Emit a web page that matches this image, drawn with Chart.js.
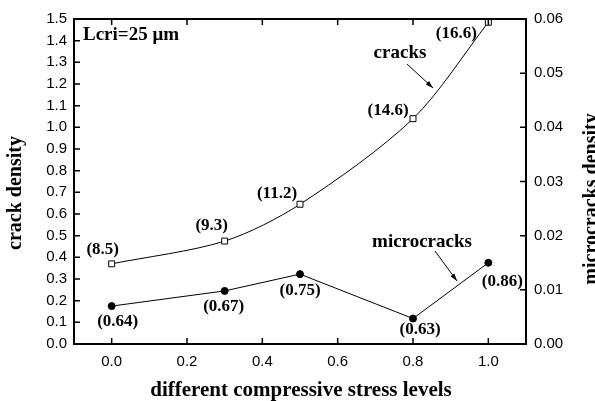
<!DOCTYPE html>
<html>
<head>
<meta charset="utf-8">
<script src="https://cdn.jsdelivr.net/npm/chart.js@4"></script>
<style>
  html, body { margin: 0; padding: 0; background: #fff; }
  #wrap { width: 595px; height: 401px; }
</style>
</head>
<body>
<div id="wrap"><canvas id="densityChart" width="595" height="401"></canvas></div>
<script>
// stress levels on x, crack density (left axis) and microcrack density (right axis)
const stressLevels = [0.0, 0.3, 0.5, 0.8, 1.0];
const crackDensity = [0.37, 0.475, 0.645, 1.04, 1.485];
const microDensity = [0.0070, 0.0098, 0.0129, 0.0047, 0.0150];
const crackLabels = ['(8.5)', '(9.3)', '(11.2)', '(14.6)', '(16.6)'];
const microLabels = ['(0.64)', '(0.67)', '(0.75)', '(0.63)', '(0.86)'];

const xTicks = [0.0, 0.2, 0.4, 0.6, 0.8, 1.0];
const yTicks = [0.0, 0.1, 0.2, 0.3, 0.4, 0.5, 0.6, 0.7, 0.8, 0.9, 1.0, 1.1, 1.2, 1.3, 1.4, 1.5];
const y1Ticks = [0.00, 0.01, 0.02, 0.03, 0.04, 0.05, 0.06];

// where each bracketed label sits relative to its point (px)
const crackLabelOffsets = [[-9, -14], [-13, -15], [-23, -11], [-25, -8], [-32, 11]];
const microLabelOffsets = [[6, 16], [-1, 16], [0, 16], [7, 11], [14, 19]];

const LABEL_FONT = 'bold 17px "Liberation Serif", "Times New Roman", serif';
const NOTE_FONT = 'bold 19px "Liberation Serif", "Times New Roman", serif';
const TITLE_FONT = 'bold 20px "Liberation Serif", "Times New Roman", serif';
const XTITLE_FONT = 'bold 21px "Liberation Serif", "Times New Roman", serif';

function drawArrow(ctx, x1, y1, x2, y2) {
    ctx.beginPath();
    ctx.moveTo(x1, y1);
    ctx.lineTo(x2, y2);
    ctx.stroke();
    const a = Math.atan2(y2 - y1, x2 - x1);
    const len = 8, half = 0.3;
    ctx.beginPath();
    ctx.moveTo(x2, y2);
    ctx.lineTo(x2 - len * Math.cos(a - half), y2 - len * Math.sin(a - half));
    ctx.lineTo(x2 - len * Math.cos(a + half), y2 - len * Math.sin(a + half));
    ctx.closePath();
    ctx.fill();
}

const framePlugin = {
    id: 'frame',
    afterDraw(chart) {
        const { ctx, chartArea: area, scales } = chart;
        const x = scales.x, y = scales.y, y1 = scales.y1;
        ctx.save();
        ctx.strokeStyle = '#000';
        ctx.fillStyle = '#000';

        // top edge of the frame
        ctx.lineWidth = 2;
        ctx.beginPath();
        ctx.moveTo(area.left - 1, area.top);
        ctx.lineTo(area.right + 1, area.top);
        ctx.stroke();

        // inward tick marks
        const tl = 6;
        ctx.lineWidth = 1.5;
        ctx.beginPath();
        xTicks.forEach(v => {
            const px = x.getPixelForValue(v);
            ctx.moveTo(px, area.bottom); ctx.lineTo(px, area.bottom - tl);
            ctx.moveTo(px, area.top); ctx.lineTo(px, area.top + tl);
        });
        yTicks.forEach(v => {
            const py = y.getPixelForValue(v);
            ctx.moveTo(area.left, py); ctx.lineTo(area.left + tl, py);
        });
        y1Ticks.forEach(v => {
            const py = y1.getPixelForValue(v);
            ctx.moveTo(area.right, py); ctx.lineTo(area.right - tl, py);
        });
        ctx.stroke();

        // bracketed values next to the points
        ctx.font = LABEL_FONT;
        ctx.textAlign = 'center';
        ctx.textBaseline = 'middle';
        stressLevels.forEach((s, i) => {
            const px = x.getPixelForValue(s);
            ctx.fillText(crackLabels[i], px + crackLabelOffsets[i][0], y.getPixelForValue(crackDensity[i]) + crackLabelOffsets[i][1]);
            ctx.fillText(microLabels[i], px + microLabelOffsets[i][0], y1.getPixelForValue(microDensity[i]) + microLabelOffsets[i][1]);
        });

        // series annotations with arrows
        ctx.font = NOTE_FONT;
        ctx.fillText('cracks', 400, 53);
        ctx.fillText('microcracks', 422, 242);
        ctx.lineWidth = 1;
        drawArrow(ctx, 407, 64, 433, 88);
        drawArrow(ctx, 435, 251, 457, 281);

        ctx.textAlign = 'left';
        ctx.fillText('Lcri=25 \u03bcm', 83, 35);

        // axis titles
        ctx.font = XTITLE_FONT;
        ctx.textAlign = 'center';
        ctx.textBaseline = 'alphabetic';
        ctx.fillText('different compressive stress levels', 301, 396);

        ctx.font = TITLE_FONT;
        ctx.save();
        ctx.translate(21, 193);
        ctx.rotate(-Math.PI / 2);
        ctx.fillText('crack density', 0, 0);
        ctx.restore();

        ctx.save();
        ctx.translate(597, 199);
        ctx.rotate(-Math.PI / 2);
        ctx.fillText('microcracks density', 0, 0);
        ctx.restore();

        ctx.restore();
    }
};

const tickFont = { family: '"Liberation Sans", Arial, sans-serif', size: 15 };

new Chart(document.getElementById('densityChart'), {
    type: 'line',
    data: {
        labels: stressLevels,
        datasets: [{
            label: 'cracks',
            data: stressLevels.map((s, i) => ({ x: s, y: crackDensity[i] })),
            yAxisID: 'y',
            borderColor: '#000',
            borderWidth: 1,
            tension: 0.3,
            pointStyle: 'rect',
            pointRadius: 4.2,
            pointBorderWidth: 1,
            pointBackgroundColor: '#fff',
            pointBorderColor: '#000',
            clip: false
        }, {
            label: 'microcracks',
            data: stressLevels.map((s, i) => ({ x: s, y: microDensity[i] })),
            yAxisID: 'y1',
            borderColor: '#000',
            borderWidth: 1,
            tension: 0,
            pointStyle: 'circle',
            pointRadius: 3.5,
            pointBackgroundColor: '#000',
            pointBorderColor: '#000',
            clip: false
        }]
    },
    options: {
        responsive: false,
        animation: false,
        layout: { padding: { top: 19, left: 0, right: 0, bottom: 0 } },
        plugins: { legend: { display: false }, tooltip: { enabled: false } },
        scales: {
            x: {
                type: 'linear',
                position: 'bottom',
                min: -0.1,
                max: 1.1,
                afterBuildTicks: s => { s.ticks = xTicks.map(v => ({ value: v })); },
                afterFit: s => { s.height = 57; },
                grid: { display: false, drawTicks: false },
                border: { display: true, color: '#000', width: 2 },
                ticks: { color: '#000', font: tickFont, padding: 9, maxRotation: 0,
                         callback: v => v.toFixed(1) }
            },
            y: {
                type: 'linear',
                position: 'left',
                min: 0,
                max: 1.5,
                afterBuildTicks: s => { s.ticks = yTicks.map(v => ({ value: v })); },
                afterFit: s => { s.width = 74; },
                grid: { display: false, drawTicks: false },
                border: { display: true, color: '#000', width: 2 },
                ticks: { color: '#000', font: tickFont, padding: 7,
                         callback: v => v.toFixed(1) }
            },
            y1: {
                type: 'linear',
                position: 'right',
                min: 0,
                max: 0.06,
                afterBuildTicks: s => { s.ticks = y1Ticks.map(v => ({ value: v })); },
                afterFit: s => { s.width = 69; },
                grid: { display: false, drawTicks: false },
                border: { display: true, color: '#000', width: 2 },
                ticks: { color: '#000', font: tickFont, padding: 8,
                         callback: v => v.toFixed(2) }
            }
        }
    },
    plugins: [framePlugin]
});
</script>
</body>
</html>
